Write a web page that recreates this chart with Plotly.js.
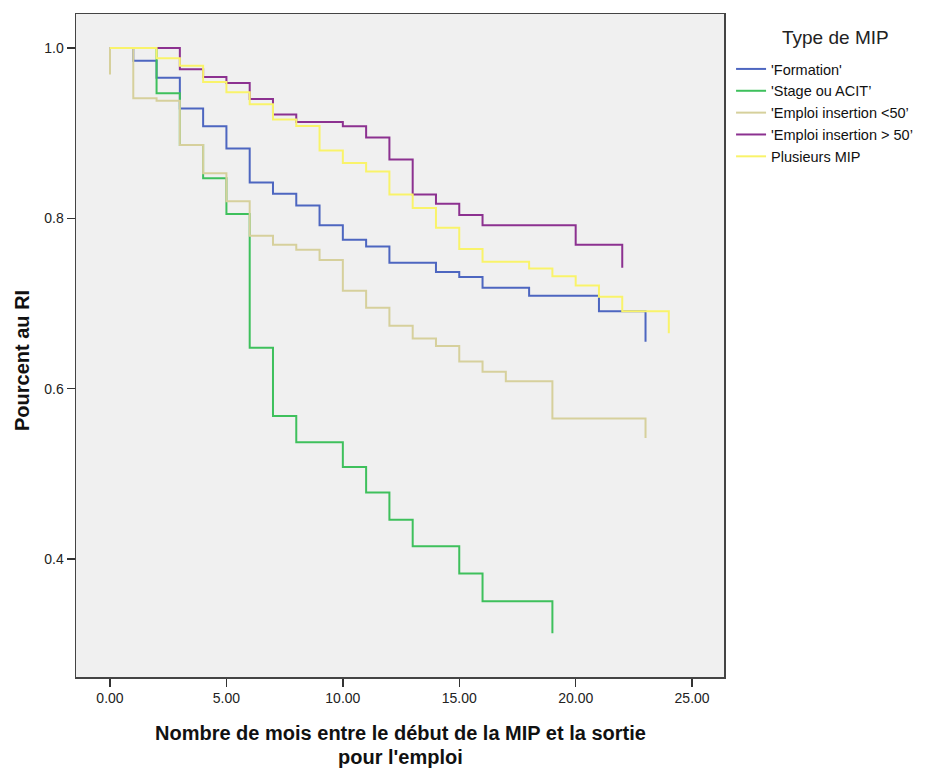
<!DOCTYPE html>
<html>
<head>
<meta charset="utf-8">
<script src="https://cdn.plot.ly/plotly-3.0.1.min.js"></script>
<style>html,body{margin:0;padding:0;background:#fff;}#chart{width:939px;height:771px;}</style>
</head>
<body>
<div id="chart"></div>
<script>
// Series names (legend labels)
const seriesNames = ["'Formation'", "'Stage ou ACIT’", "'Emploi insertion &lt;50’", "'Emploi insertion &gt; 50’", "Plusieurs MIP"];

// Months (event times) and survival proportions per series
const formationMonths = [0,1,2,3,4,5,6,7,8,9,10,11,12,14,15,16,18,21,23];
const formationValues = [1,0.985,0.965,0.929,0.908,0.882,0.842,0.829,0.815,0.792,0.775,0.767,0.748,0.737,0.731,0.7185,0.709,0.691,0.655];

const stageMonths = [0,2,3,4,5,6,7,8,10,11,12,13,15,16,19];
const stageValues = [1,0.947,0.886,0.847,0.805,0.648,0.568,0.537,0.508,0.478,0.446,0.415,0.383,0.3505,0.313];

const emploiMoins50Months = [0,0,1,2,3,4,5,6,7,8,9,10,11,12,13,14,15,16,17,19,23];
const emploiMoins50Values = [0.969,1,0.941,0.938,0.886,0.853,0.820,0.7795,0.769,0.763,0.751,0.715,0.695,0.674,0.659,0.650,0.632,0.620,0.6086,0.565,0.542];

const emploiPlus50Months = [0,3,4,5,6,7,8,10,11,12,13,14,15,16,20,22];
const emploiPlus50Values = [1,0.975,0.966,0.959,0.940,0.922,0.913,0.908,0.895,0.869,0.828,0.817,0.804,0.792,0.769,0.742];

const plusieursMonths = [0,2,3,4,5,6,7,8,9,10,11,12,13,14,15,16,18,19,20,21,22,24];
const plusieursValues = [1,0.988,0.979,0.960,0.948,0.934,0.916,0.9085,0.8795,0.865,0.855,0.828,0.812,0.789,0.764,0.749,0.741,0.732,0.721,0.708,0.691,0.665];

// Tick values and titles
const xTickVals = [0,5,10,15,20,25];
const yTickVals = [0.4,0.6,0.8,1.0];
const xTitleLines = ["Nombre de mois entre le début de la MIP et la sortie", "pour l'emploi"];
const yTitle = "Pourcent au RI";
const legendTitle = "Type de MIP";

const colors = ["#4d66c0", "#3ec05c", "#d6d09c", "#8c3190", "#f9f36a"];
const xs = [formationMonths, stageMonths, emploiMoins50Months, emploiPlus50Months, plusieursMonths];
const ys = [formationValues, stageValues, emploiMoins50Values, emploiPlus50Values, plusieursValues];

const FONT = '"Liberation Sans", Arial, sans-serif';

const traces = seriesNames.map((n, i) => ({
  type: 'scatter', mode: 'lines', name: n,
  x: xs[i], y: ys[i],
  line: {shape: 'hv', color: colors[i], width: 2},
  hoverinfo: 'x+y+name'
}));

const PH = 663; // plot height in px (771 - 14 - 94)
const PW = 648; // plot width in px (939 - 76 - 215)
const py = px => (677 - px) / PH;   // pixel row -> paper y
const pxp = px => (px - 76) / PW;   // pixel col -> paper x

const annotations = xTitleLines.map((t, i) => ({
  text: '<b>' + t + '</b>',
  xref: 'paper', yref: 'paper', x: 0.5, y: py(i === 0 ? 733 : 757),
  xanchor: 'center', yanchor: 'middle', showarrow: false,
  font: {family: FONT, size: 20, color: '#111'}
}));
annotations.push({
  text: '<b>' + yTitle + '</b>', textangle: -90,
  xref: 'paper', yref: 'paper', x: pxp(22), y: py(361),
  xanchor: 'center', yanchor: 'middle', showarrow: false,
  font: {family: FONT, size: 20, color: '#111'}
});
annotations.push({
  text: legendTitle,
  xref: 'paper', yref: 'paper', x: pxp(835), y: py(38),
  xanchor: 'center', yanchor: 'middle', showarrow: false,
  font: {family: FONT, size: 19, color: '#222'}
});

const layout = {
  width: 939, height: 771,
  margin: {l: 76, r: 215, t: 14, b: 94},
  paper_bgcolor: '#ffffff',
  plot_bgcolor: '#f0f0f0',
  font: {family: FONT, color: '#222'},
  showlegend: true,
  legend: {
    x: pxp(733) - 0.003, y: py(53), xanchor: 'left', yanchor: 'top',
    bgcolor: 'rgba(0,0,0,0)',
    font: {family: FONT, size: 14.5, color: '#111'},
    itemwidth: 30,
    traceorder: 'normal'
  },
  xaxis: {
    range: [-1.46, 26.37],
    tickvals: xTickVals,
    tickformat: '.2f',
    ticks: 'outside', ticklen: 8, tickcolor: '#333', tickwidth: 1.5,
    showgrid: false, zeroline: false,
    showline: true, mirror: true, linecolor: '#444', linewidth: 1.5,
    tickfont: {family: FONT, size: 14, color: '#222'}
  },
  yaxis: {
    range: [0.2615, 1.0399],
    tickvals: yTickVals,
    tickformat: '.1f',
    ticks: 'outside', ticklen: 8, tickcolor: '#333', tickwidth: 1.5,
    showgrid: false, zeroline: false,
    showline: true, mirror: true, linecolor: '#444', linewidth: 1.5,
    tickfont: {family: FONT, size: 14, color: '#222'}
  },
  annotations: annotations
};

Plotly.newPlot('chart', traces, layout, {displayModeBar: false, staticPlot: true});
</script>
</body>
</html>
